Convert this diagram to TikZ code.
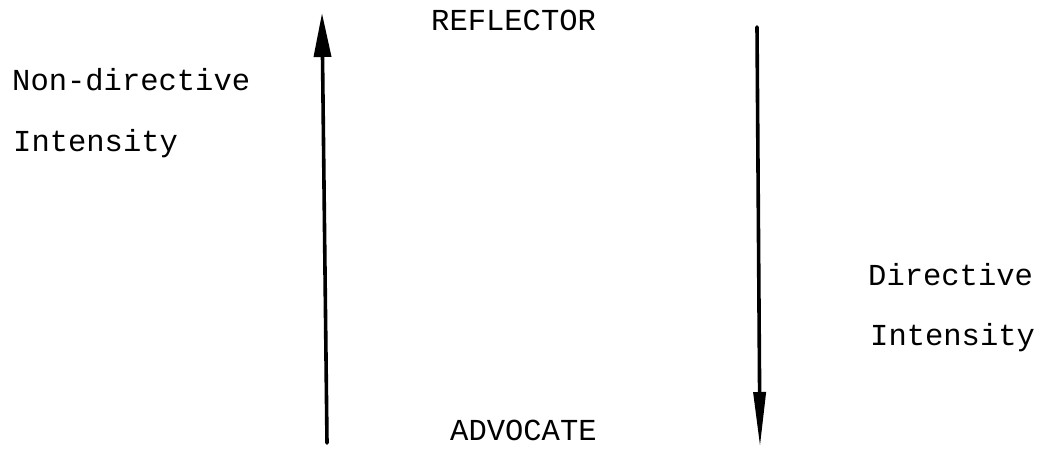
\documentclass[tikz,border=0pt]{standalone}
\usepackage{fontspec}
\setmonofont{Liberation Mono}
\usetikzlibrary{arrows.meta}
\tikzset{
  lbl/.style={anchor=base west,inner sep=0pt,font=\ttfamily\fontsize{30.5}{36}\selectfont},
  axis/.style={line width=3.6pt,line cap=round}
}
\begin{document}
\begin{tikzpicture}[x=1pt,y=-1pt]
\useasboundingbox (0,0) rectangle (1052,448);
\node[lbl] (refl) at (431,30) {REFLECTOR};
\node[lbl] (advo) at (450,440) {ADVOCATE};
\node[lbl] (nond) at (12,90) {Non-directive};
\node[lbl] (lint) at (13,151) {Intensity};
\node[lbl] (dire) at (868,285) {Directive};
\node[lbl] (rint) at (870,345) {Intensity};
\coordinate (ls) at (327,443);
\coordinate (le) at (322,13);
\coordinate (rs) at (757,27);
\coordinate (re) at (760,447);
\draw[axis,-{Triangle[length=44pt,width=17pt]}] (ls) -- (le);
\draw[axis,-{Triangle[length=55pt,width=12pt]}] (rs) -- (re);
\end{tikzpicture}
\end{document}
